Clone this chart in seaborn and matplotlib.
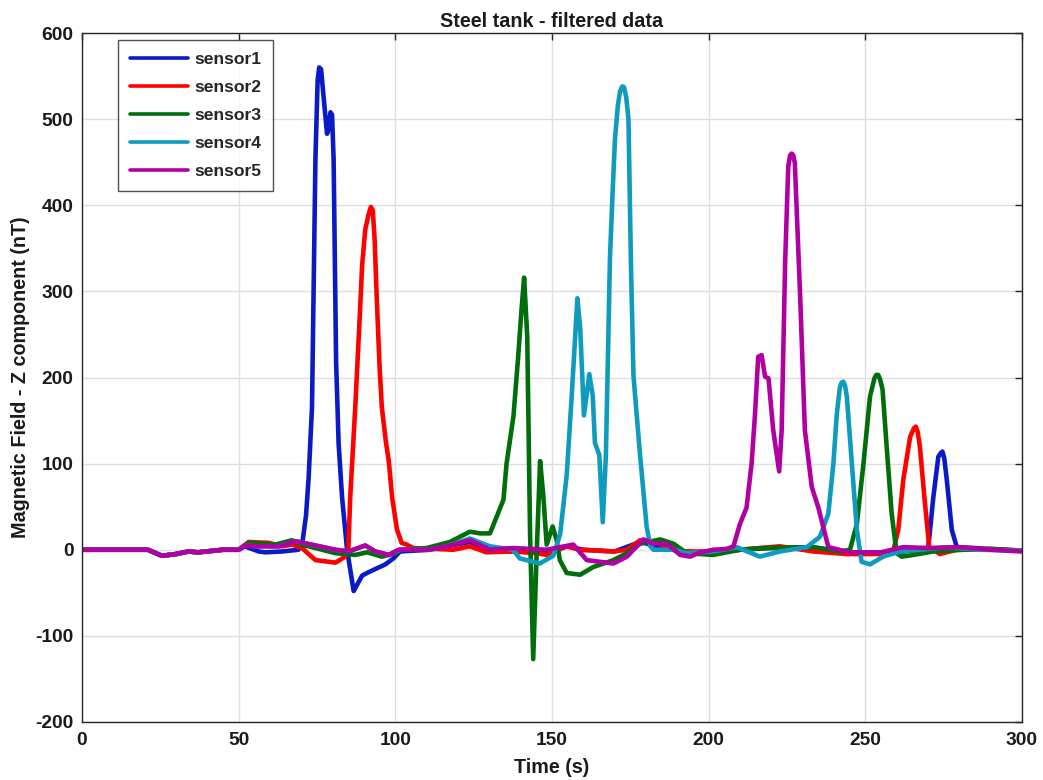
import numpy as np
import pandas as pd
import seaborn as sns
import matplotlib
matplotlib.use("Agg")
import matplotlib.pyplot as plt

# ---------------- data ----------------
sensors = ["sensor1", "sensor2", "sensor3", "sensor4", "sensor5"]

t_sensor1 = [0, 10, 21, 25.5, 30, 34, 37, 45, 50, 52, 56.4, 58.5, 63.8, 69.1, 70.4, 71.5,
             72.3, 73.4, 74.5, 75.2, 75.7, 76.3, 77, 78.2, 78.8, 79.3, 79.8, 80.3, 81.1,
             81.9, 83, 84.6, 86.7, 89.4, 91.5, 96.8, 99.4, 101.5, 111, 116.4, 123.8,
             129.1, 137.6, 148, 154.7, 160, 170, 178.1, 185, 190.9, 201.5, 210, 220, 233,
             244, 255, 262, 268, 270.1, 271.7, 273.3, 274, 274.6, 275.2, 276, 277.6,
             279.2, 285, 292, 300]
v_sensor1 = [0, 0, 0, -7, -5, -2, -3, 0, 0, 4, -2, -3, -2, 0, 10, 40,
             82, 165, 454, 545, 560, 558, 530, 483, 490, 508, 505, 454, 218,
             123, 61, 0, -48, -30, -26, -17, -10, -2, 0, 4, 9,
             0, -2, -3, 4, 0, -2, 9, 3, -2, -4, 0, 2, 3,
             -3, -4, -2, 0, 3, 61, 108, 112, 114, 106, 81, 23,
             3, 2, 0, -1]

t_sensor2 = [0, 10, 21, 25.5, 30, 34, 37, 45, 50, 53.2, 59.6, 63.8, 67, 70.2, 74.5, 80.9,
             84, 85, 85.6, 87.2, 88.5, 89.4, 90.4, 91.5, 92.2, 92.8, 93.4, 94.1, 95,
             95.7, 97, 97.9, 99, 100.5, 102, 103.6, 105.7, 118.5, 123.8, 129.1, 137.6,
             145.1, 148.3, 154.7, 159, 169.6, 173.9, 178.1, 182.4, 190.9, 201.5, 210,
             222.7, 233.4, 244.1, 254.7, 259, 260.5, 262.1, 264.3, 265.5, 266.1, 266.7,
             267.4, 269, 270.4, 273.8, 279.1, 290, 300]
v_sensor2 = [0, 0, 0, -7, -5, -2, -3, 0, 0, 9, 8, 4, 6, 2, -12, -15,
             -8, 0, 61, 165, 260, 330, 372, 390, 398, 394, 360, 289, 210,
             165, 125, 103, 60, 24, 8, 6, 2, 0, 4, -3, -2,
             -4, -6, 4, 0, -2, 0, 11, 9, -2, -2, 0,
             4, -2, -5, -5, 0, 23, 81, 131, 141, 143, 137,
             120, 55, 3, -5, 0, 1, -1]

t_sensor3 = [0, 10, 21, 25.5, 30, 34, 37, 45, 50, 53.2, 61.7, 67, 70, 74.5, 80.9, 87.2,
             91, 95.7, 100, 101.5, 110, 117.4, 123.8, 127, 130.2, 132.3, 134.5, 135.5,
             137.7, 139.2, 140.3, 141.1, 142.1, 143, 144, 145.1, 146.2, 147.2, 148.3,
             150.2, 151.5, 152.5, 154.7, 159, 163.2, 169.6, 173.9, 178.1, 184.5, 188.8,
             193, 201.5, 210, 217.5, 233.4, 241.9, 245.1, 247.3, 249.4, 251.5, 252.9,
             253.5, 254.1, 254.7, 255.5, 256.8, 258.4, 260, 261.6, 265.3, 271.7, 281.3,
             290, 300]
v_sensor3 = [0, 0, 0, -7, -5, -2, -3, 0, 0, 8, 6, 11, 6, 2, -4, -6,
             -3, -8, -4, 0, 2, 9, 21, 19, 19, 38, 58, 100,
             155, 224, 280, 316, 247, 18, -127, -5, 103, 64, 6,
             27, 11, -12, -27, -29, -20, -12, -4, 7, 12, 7,
             -4, -6, 0, 2, 3, -2, 0, 30, 100, 178, 199,
             203, 203, 198, 186, 120, 42, -4, -8, -6, -2, 0,
             1, -1]

t_sensor4 = [0, 10, 21, 25.5, 30, 34, 37, 45, 50, 52.1, 55.3, 62.8, 68.1, 74.5, 80.9, 85.1,
             90.4, 93.6, 97.9, 101.5, 110, 116.4, 123.8, 130.2, 137.6, 139.7, 146.1,
             150.4, 152.6, 154.7, 156.3, 158.1, 159, 160.2, 161.9, 163, 163.7, 165.1,
             166.2, 167.2, 168.5, 169.4, 170.1, 171, 171.7, 172.4, 173, 173.7, 174.4,
             175.2, 176, 178.1, 180.2, 181.4, 182.4, 188.8, 193, 201.5, 209, 216.3,
             222.7, 231.3, 235.5, 238.2, 239.8, 240.9, 241.9, 242.4, 243, 243.5, 244.1,
             245.7, 247.3, 248.8, 251.5, 255.7, 261.1, 267.5, 276, 286.7, 300]
v_sensor4 = [0, 0, 0, -7, -5, -2, -3, 0, 0, 5, 4, 4, 10, 5, 0, -2,
             5, -2, -6, 0, 0, 4, 13, 4, 0, -10, -16,
             -7, 18, 87, 179, 292, 257, 156, 204, 179, 124, 110,
             32, 110, 339, 420, 477, 515, 532, 538, 537, 525, 500,
             330, 202, 110, 27, 4, 0, 0, -4, -2, 3, -8,
             -2, 3, 15, 42, 100, 158, 189, 194, 195, 191, 178,
             100, 23, -14, -17, -8, -2, 0, 3, 0, -1]

t_sensor5 = [0, 10, 21, 25.5, 30, 34, 37, 45, 50, 52.1, 55.3, 62.8, 68.1, 74.5, 80.9, 85.1,
             90.4, 93.6, 97.9, 101, 110, 116.4, 123.8, 130.2, 137.6, 148.3, 156.8, 161.1,
             169.6, 173.9, 179.2, 182.4, 186.7, 190.9, 194.1, 197.3, 201.5, 205.8, 207.9,
             210, 212.1, 213.7, 214.8, 215.8, 216.9, 218, 219.1, 220.6, 222.5, 223.3,
             224.4, 225.4, 226, 226.5, 227, 227.5, 229.2, 230.7, 232.9, 235, 236.6,
             238.2, 245, 255, 262, 270, 280, 290, 300]
v_sensor5 = [0, 0, 0, -7, -5, -2, -3, 0, 0, 5, 4, 4, 10, 5, 0, -2,
             5, -2, -6, 0, 0, 4, 11, 0, 2, 0, 6, -12,
             -16, -8, 12, 7, 7, -6, -8, -3, 0, 1, 4,
             30, 49, 100, 158, 224, 226, 201, 199, 139, 91, 139,
             333, 445, 458, 460, 458, 449, 294, 139, 73, 49, 26,
             3, -3, -3, 3, 2, 3, 0, -2]

colors = ["#0A1AC4", "#FF0000", "#006E0A", "#0E9BBE", "#B000A2"]

x_ticks = [0, 50, 100, 150, 200, 250, 300]
y_ticks = [-200, -100, 0, 100, 200, 300, 400, 500, 600]

# ---------------- build long table ----------------
ts = [t_sensor1, t_sensor2, t_sensor3, t_sensor4, t_sensor5]
vs = [v_sensor1, v_sensor2, v_sensor3, v_sensor4, v_sensor5]
frames = []
for name, t, v in zip(sensors, ts, vs):
    frames.append(pd.DataFrame({"Time": t, "Field": v, "Sensor": name}))
df = pd.concat(frames, ignore_index=True)

# ---------------- style ----------------
sns.set_style("white")
plt.rcParams["font.family"] = ["Liberation Sans", "DejaVu Sans"]
plt.rcParams["font.weight"] = "bold"
plt.rcParams["axes.unicode_minus"] = False

fig = plt.figure(figsize=(10.43, 7.8), dpi=100)
ax = fig.add_axes([82 / 1043, 1 - 722 / 780, 940 / 1043, 689 / 780])

sns.lineplot(data=df, x="Time", y="Field", hue="Sensor", hue_order=sensors,
             palette=dict(zip(sensors, colors)), estimator=None, sort=False,
             linewidth=3.3, ax=ax, legend=True)

ax.set_xlim(0, 300)
ax.set_ylim(-200, 600)
ax.set_xticks(x_ticks)
ax.set_yticks(y_ticks)
ax.grid(True, color="#DEDEDE", linewidth=1.0)
ax.set_axisbelow(True)
for s in ax.spines.values():
    s.set_color("#262626")
    s.set_linewidth(1.0)
    s.set_visible(True)

ax.tick_params(axis="both", direction="in", length=5, width=1.0, color="#262626",
               top=True, right=True, labelsize=13.8, labelcolor="#1a1a1a")
ax.tick_params(axis="x", pad=7)
ax.tick_params(axis="y", pad=6)
for lab in ax.get_xticklabels() + ax.get_yticklabels():
    lab.set_fontweight("bold")

ax.set_xlabel("Time (s)", fontsize=14.2, fontweight="bold", color="#1a1a1a", labelpad=7)
ax.set_ylabel("Magnetic Field - Z component (nT)", fontsize=14.2, fontweight="bold",
              color="#1a1a1a", labelpad=4)
ax.set_title("Steel tank - filtered data", fontsize=14.2, fontweight="bold",
             color="#1a1a1a", pad=4)

leg = ax.legend(loc="upper left", bbox_to_anchor=((118 - 82) / 940, (722 - 40) / 689),
                borderaxespad=0, frameon=True, fancybox=False, edgecolor="#262626",
                handlelength=3.3, handletextpad=0.34, labelspacing=0.72,
                borderpad=0.7, prop={"weight": "bold", "size": 12.6})
leg.get_frame().set_linewidth(1.0)
for h in leg.legend_handles:
    h.set_linewidth(2.6)

fig.savefig("out.png", dpi=100)
